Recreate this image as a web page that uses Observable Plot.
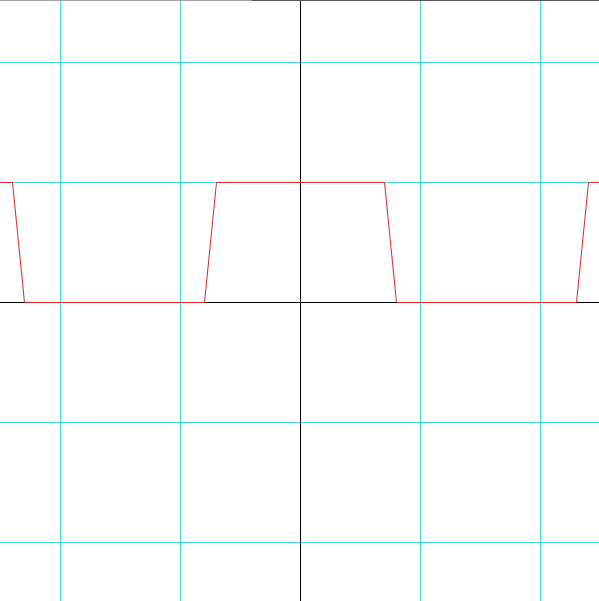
<!DOCTYPE html>
<html>
<head>
<meta charset="utf-8">
<script src="https://cdn.jsdelivr.net/npm/d3@7"></script>
<script src="https://cdn.jsdelivr.net/npm/@observablehq/plot@0.6"></script>
<style>
  html, body { margin: 0; padding: 0; background: #fff; }
  svg { display: block; }
</style>
</head>
<body>
<div id="chart"></div>
<script>
// Vertices of the red trapezoidal wave
const waveX = [-2.5, -2.4, -2.3, -0.8, -0.7, 0.7, 0.8, 2.3, 2.4, 2.5];
const waveY = [1, 1, 0, 0, 1, 1, 0, 0, 1, 1];

// Grid positions
const gridX = [-2, -1, 1, 2];
const gridY = [-2, -1, 1, 2];

const wave = waveX.map((x, i) => ({x, y: waveY[i]}));

const xDomain = [-2.5, 299 / 120];
const yDomain = [-299 / 120, 302 / 120];

const chart = Plot.plot({
  width: 599,
  height: 601,
  margin: 0,
  x: {domain: xDomain, axis: null},
  y: {domain: yDomain, axis: null},
  marks: [
    Plot.ruleX(gridX, {stroke: "#44d4de", strokeWidth: 1}),
    Plot.ruleY(gridY, {stroke: "#44d4de", strokeWidth: 1}),
    Plot.ruleX([0], {stroke: "black", strokeWidth: 1}),
    Plot.ruleY([0], {stroke: "black", strokeWidth: 1}),
    Plot.ruleY([yDomain[1]], {x1: xDomain[0], x2: -0.4, stroke: "#a0a0a0", strokeWidth: 1}),
    Plot.ruleY([yDomain[1]], {x1: -0.4, x2: xDomain[1], stroke: "#555", strokeWidth: 1}),
    Plot.line(wave, {x: "x", y: "y", stroke: "#d42a2a", strokeWidth: 1})
  ]
});
document.getElementById("chart").append(chart);
</script>
</body>
</html>
